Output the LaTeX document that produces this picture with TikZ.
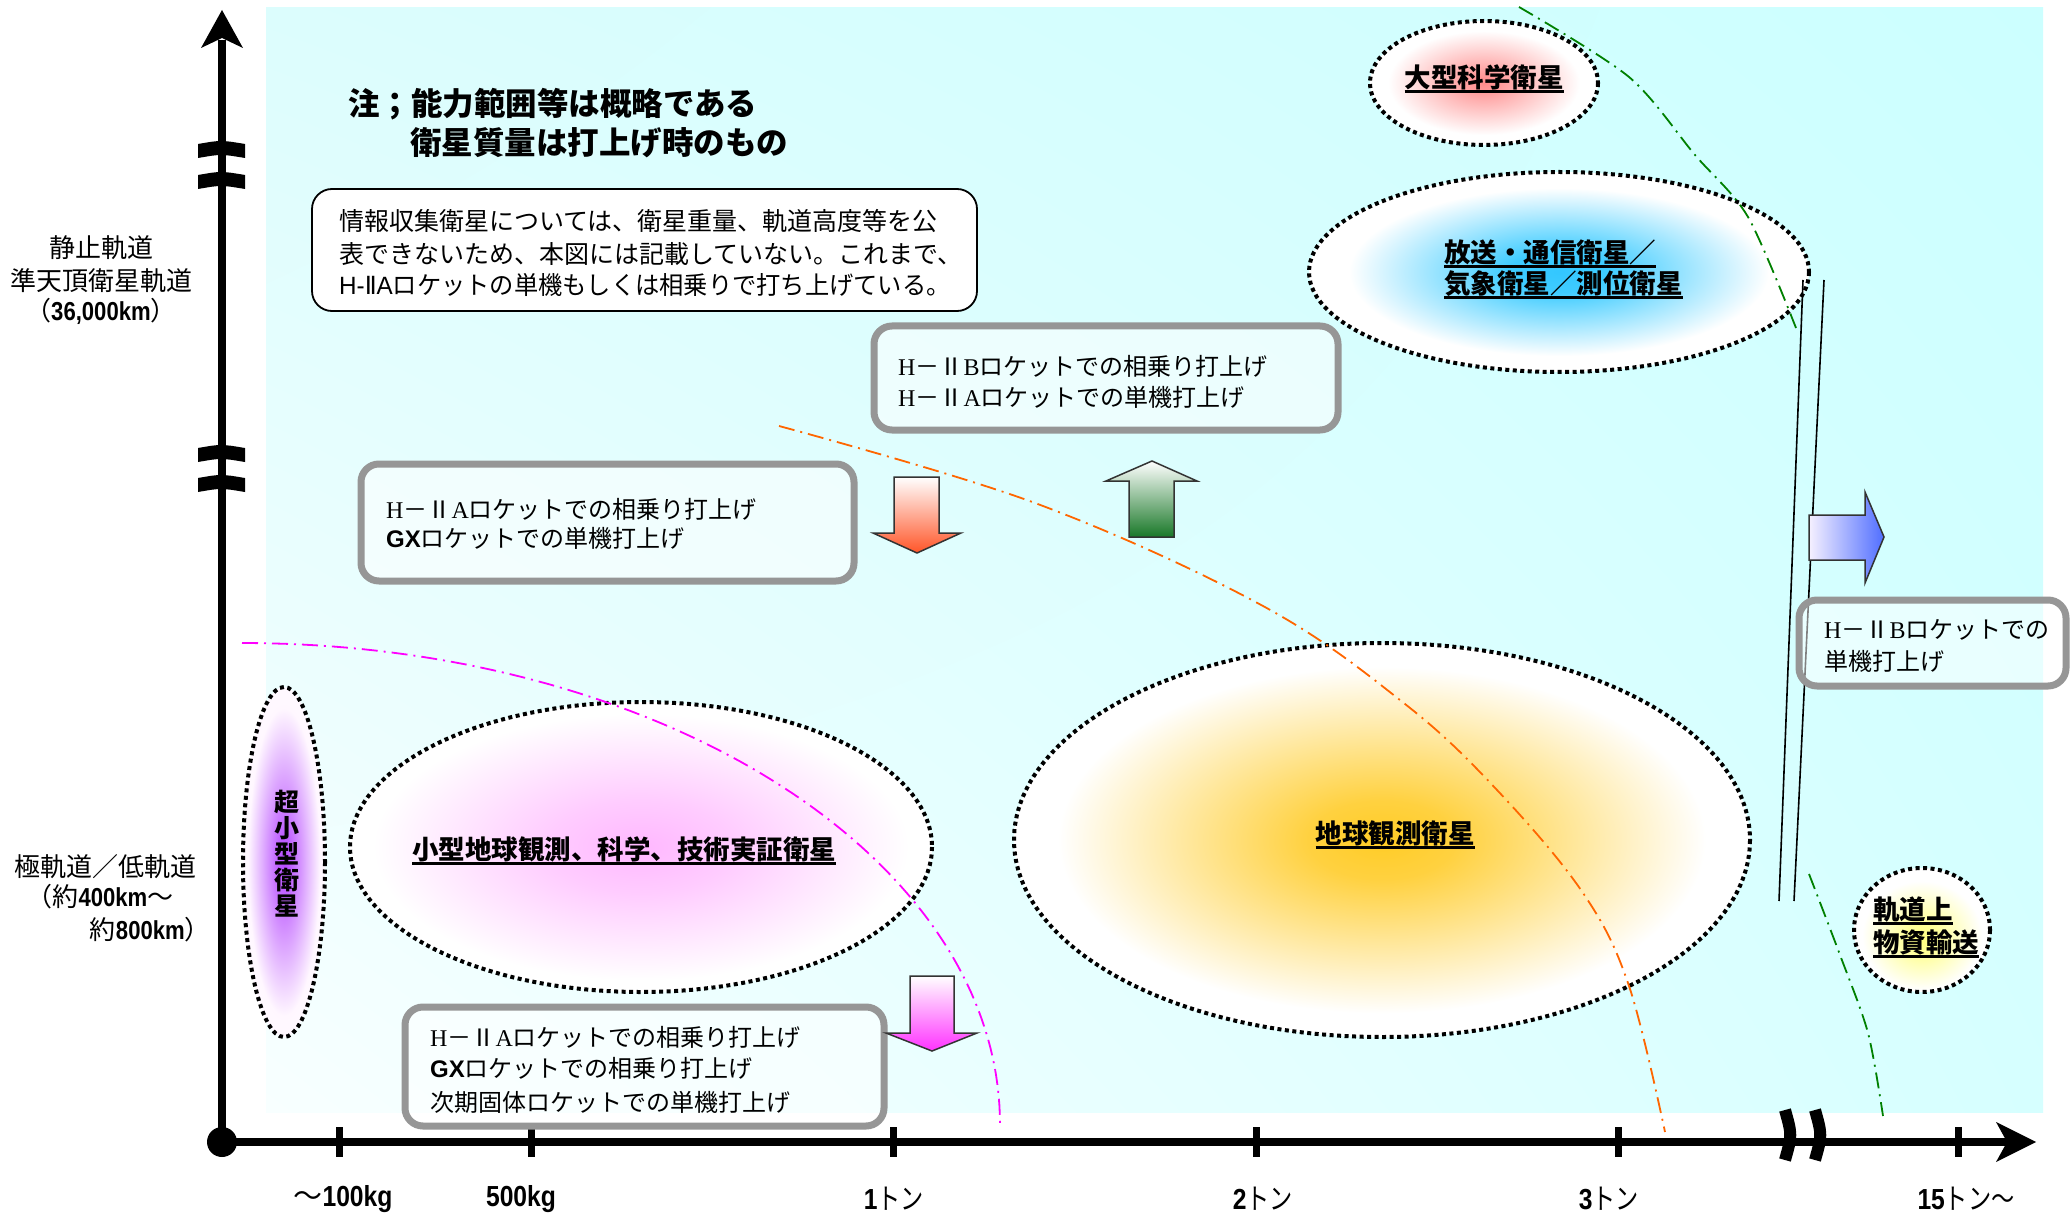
\documentclass[tikz,border=0pt]{standalone}
\usepackage{fontspec}
\usetikzlibrary{shadings}
\setmainfont{Noto Sans CJK JP}
\newfontfamily\jp{Noto Sans CJK JP}
\newfontfamily\jpn[FakeStretch=0.8]{Noto Sans CJK JP}
\newfontfamily\lsn[FakeStretch=0.85]{Liberation Sans}
\newfontfamily\lsa{Liberation Sans}
\newfontfamily\lser{Liberation Serif}
\newfontfamily\djv{DejaVu Sans}
\definecolor{bgUL}{RGB}{220,253,253}
\definecolor{bgUR}{RGB}{204,255,255}
\definecolor{bgLL}{RGB}{248,255,255}
\definecolor{bgLR}{RGB}{214,255,255}
\definecolor{boxgray}{RGB}{150,150,150}
\definecolor{ddmag}{RGB}{255,0,255}
\definecolor{ddorg}{RGB}{255,102,0}
\definecolor{ddgrn}{RGB}{0,128,0}
\definecolor{arrOrg}{RGB}{255,85,40}
\definecolor{arrPink}{RGB}{255,50,255}
\definecolor{arrGrn}{RGB}{25,120,40}
\definecolor{arrBlu}{RGB}{80,110,255}
\definecolor{arrBluL}{RGB}{245,240,255}
\pgfdeclareradialshading{shred}{\pgfpoint{0bp}{0bp}}{rgb(0bp)=(1,0.55,0.55); rgb(4bp)=(1,0.62,0.62); rgb(21bp)=(1,1,1); rgb(50bp)=(1,1,1)}
\pgfdeclareradialshading{shblue}{\pgfpoint{0bp}{0bp}}{rgb(0bp)=(0.2,0.78,1); rgb(5bp)=(0.25,0.8,1); rgb(21bp)=(1,1,1); rgb(50bp)=(1,1,1)}
\pgfdeclareradialshading{shpink}{\pgfpoint{0bp}{0bp}}{rgb(0bp)=(1,0.72,1); rgb(8bp)=(1,0.8,1); rgb(23bp)=(1,1,1); rgb(50bp)=(1,1,1)}
\pgfdeclareradialshading{shpurp}{\pgfpoint{0bp}{0bp}}{rgb(0bp)=(0.72,0.3,1); rgb(4bp)=(0.75,0.38,1); rgb(22bp)=(1,0.97,1); rgb(50bp)=(1,1,1)}
\pgfdeclareradialshading{shorng}{\pgfpoint{0bp}{0bp}}{rgb(0bp)=(1,0.8,0.15); rgb(5bp)=(1,0.82,0.25); rgb(22bp)=(1,1,1); rgb(50bp)=(1,1,1)}
\pgfdeclareradialshading{shyel}{\pgfpoint{0bp}{-4bp}}{rgb(0bp)=(1,1,0.5); rgb(6bp)=(1,1,0.6); rgb(22bp)=(1,1,1); rgb(50bp)=(1,1,1)}
\newcommand\ulb[1]{\setbox0\hbox{#1}\rlap{\rule[-5pt]{\wd0}{2.5pt}}\box0}
\newcommand\hiiA{{\lser H}－Ⅱ{\lser A}}
\newcommand\hiiB{{\lser H}－Ⅱ{\lser B}}
\newcommand\gxl{{\lsa\bfseries GX}}
\tikzset{
  graybox/.style={draw=boxgray, line width=7pt, rounded corners=18pt, fill=white, fill opacity=0.5},
  infobox/.style={draw=black, line width=1.8pt, rounded corners=20pt, fill=white},
  dotell/.style={draw=black, line width=4pt, dash pattern=on 4pt off 3.5pt},
  ddline/.style={line width=1.8pt, dash pattern=on 16pt off 6pt on 2pt off 6pt},
  blkarrow/.style={draw=black!80, line width=1.5pt},
  boxtxt/.style={inner sep=0pt, anchor=west, font=\jp\fontsize{24}{28}\selectfont},
  infotxt/.style={inner sep=0pt, anchor=west, font=\jp\fontsize{25}{28}\selectfont},
  elltxt/.style={inner sep=0pt, font=\jp\bfseries\fontsize{26.5}{32}\selectfont},
  ylab/.style={inner sep=0pt, font=\jp\fontsize{26}{30}\selectfont},
  ticklab/.style={inner sep=0pt, font=\lsn\bfseries\fontsize{29}{32}\selectfont},
  titletxt/.style={inner sep=0pt, anchor=west, font=\jp\bfseries\fontsize{31.5}{36}\selectfont},
}
\begin{document}
\begin{tikzpicture}[x=1pt,y=-1pt]
\useasboundingbox (0,0) rectangle (2071,1214);
\fill[white] (0,0) rectangle (2071,1214);
% background
\shade[upper left=bgUL, upper right=bgUR, lower left=bgLL, lower right=bgLR] (266,8) rectangle (2043,1112);

% ellipses
\shadedraw[shading=shred, dotell] (1484,83) ellipse[x radius=114, y radius=62];
\shadedraw[shading=shblue, dotell] (1559,272) ellipse[x radius=250, y radius=100];
\shadedraw[shading=shpink, dotell] (641,847) ellipse[x radius=291, y radius=145];
\shadedraw[shading=shpurp, dotell] (284,862) ellipse[x radius=41, y radius=175];
\shadedraw[shading=shorng, dotell] (1382,840) ellipse[x radius=368, y radius=197];
\shadedraw[shading=shyel, dotell] (1922,930) ellipse[x radius=68, y radius=62];

% dash-dot boundaries
\draw[ddline, ddmag] plot[domain=-90:0, samples=80] ({242+758*cos(\x)}, {1124+481*sin(\x)});
\draw[ddline, ddorg] plot[smooth, tension=0.6] coordinates {(779,426) (1035,503) (1263,606) (1405,704) (1497,790) (1583,893) (1629,986) (1665,1132)};
\draw[ddline, ddgrn] plot[smooth] coordinates {(1519,7) (1629,77) (1695,155) (1748,217) (1796,328)};
\draw[ddline, ddgrn] plot[smooth] coordinates {(1809,874) (1840,955) (1868,1033) (1883,1116)};

% double lines
\draw[line width=1.6pt] (1803,280) -- (1779,901);
\draw[line width=1.6pt] (1824,280) -- (1794,901);

% axes
\draw[line width=8pt] (222,1142) -- (222,40);
\fill (222,10) -- (243,48) -- (222,38) -- (201,48) -- cycle;
\draw[line width=8pt] (222,1142) -- (2010,1142);
\fill (2036,1142) -- (1996,1162) -- (2007,1142) -- (1996,1122) -- cycle;
\node[circle, fill=black, inner sep=0pt, minimum size=30pt] (origin) at (222,1142) {};
% ticks
\foreach \tx in {339,531,893,1256,1618,1958} \draw[line width=7pt] (\tx,1127) -- (\tx,1157);
% y axis breaks
\foreach \by in {143,174,447,477} {
  \fill (198,\by+1) .. controls (221,\by-3) .. (245,\by+1) -- (245,\by+15) .. controls (221,\by+11) .. (198,\by+15) -- cycle;
}
% x axis breaks
\draw[line width=12pt] (1785,1110) .. controls (1792,1135) .. (1785,1160);
\draw[line width=12pt] (1815,1110) .. controls (1822,1135) .. (1815,1160);

% tick labels
\node[ticklab] (t1) at (343,1199) {{\jp\mdseries ～}100kg};
\node[ticklab] (t2) at (521,1199) {500kg};
\node[ticklab] (t3) at (894,1199) {1{\jpn\mdseries トン}};
\node[ticklab] (t4) at (1263,1199) {2{\jpn\mdseries トン}};
\node[ticklab] (t5) at (1609,1199) {3{\jpn\mdseries トン}};
\node[ticklab] (t6) at (1966,1199) {15{\jpn\mdseries トン～}};

% y labels
\node[ylab] (y1) at (101,248) {静止軌道};
\node[ylab] (y2) at (101,281) {準天頂衛星軌道};
\node[ylab] (y3) at (101,311) {（{\lsn\bfseries 36,000km}）};
\node[ylab] (y4) at (105,867) {極軌道／低軌道};
\node[ylab] (y5) at (100,897) {（約{\lsn\bfseries 400km}～};
\node[ylab, anchor=east] (y6) at (211,930) {約{\lsn\bfseries 800km}）};

% title
\node[titletxt] (ti1) at (348,104) {注；能力範囲等は概略である};
\node[titletxt] (ti2) at (410,143) {衛星質量は打上げ時のもの};

% info box
\draw[infobox] (312,189) rectangle (977,311);
\node[infotxt] (i1) at (339,221) {情報収集衛星については、衛星重量、軌道高度等を公};
\node[infotxt] (i2) at (339,254) {表できないため、本図には記載していない。これまで、};
\node[infotxt, xscale=0.97] (i3) at (339,285) {{\lsa H-}{\djv Ⅱ}{\lsa A}ロケットの単機もしくは相乗りで打ち上げている。};

% gray boxes
\draw[graybox] (874,326) rectangle (1338,430);
\node[boxtxt] (b1a) at (898,366) {\hiiB ロケットでの相乗り打上げ};
\node[boxtxt] (b1b) at (898,397) {\hiiA ロケットでの単機打上げ};

\draw[graybox] (361,464) rectangle (854,581);
\node[boxtxt] (b2a) at (386,509) {\hiiA ロケットでの相乗り打上げ};
\node[boxtxt] (b2b) at (386,538) {\gxl ロケットでの単機打上げ};

\draw[graybox] (405,1007) rectangle (884,1126);
\node[boxtxt] (b3a) at (430,1037) {\hiiA ロケットでの相乗り打上げ};
\node[boxtxt] (b3b) at (430,1068) {\gxl ロケットでの相乗り打上げ};
\node[boxtxt] (b3c) at (430,1102) {次期固体ロケットでの単機打上げ};

\draw[graybox] (1799,600) rectangle (2066,686);
\node[boxtxt] (b4a) at (1824,630) {\hiiB ロケットでの};
\node[boxtxt] (b4b) at (1824,661) {単機打上げ};

% block arrows
\shadedraw[top color=white, bottom color=arrOrg, blkarrow] (894,477)--(939,477)--(939,533)--(961,533)--(917,553)--(873,533)--(894,533)--cycle;
\shadedraw[top color=white, bottom color=arrPink, blkarrow] (910,976)--(954,976)--(954,1033)--(977,1033)--(932,1051)--(886,1033)--(910,1033)--cycle;
\shadedraw[top color=white, bottom color=arrGrn, blkarrow] (1129,537)--(1129,481)--(1106,481)--(1152,461)--(1197,481)--(1174,481)--(1174,537)--cycle;
\shadedraw[left color=arrBluL, right color=arrBlu, blkarrow] (1809,515)--(1865,515)--(1865,492)--(1884,537)--(1865,583)--(1865,560)--(1809,560)--cycle;

% ellipse labels
\node[elltxt] (e1) at (1484,79) {\ulb{大型科学衛星}};
\node[elltxt, anchor=west] (e2a) at (1444,254) {\ulb{放送・通信衛星／}};
\node[elltxt, anchor=west] (e2b) at (1444,285) {\ulb{気象衛星／測位衛星}};
\node[elltxt] (e3) at (624,851) {\ulb{小型地球観測、科学、技術実証衛星}};
\node[elltxt] (e4) at (1395,835) {\ulb{地球観測衛星}};
\node[elltxt, anchor=west] (e5a) at (1873,911) {\ulb{軌道上}};
\node[elltxt, anchor=west] (e5b) at (1873,944) {\ulb{物資輸送}};
\node[elltxt, align=center, font=\jp\bfseries\fontsize{25}{26}\selectfont] (e6) at (287,854) {超\\小\\型\\衛\\星};
\end{tikzpicture}
\end{document}
